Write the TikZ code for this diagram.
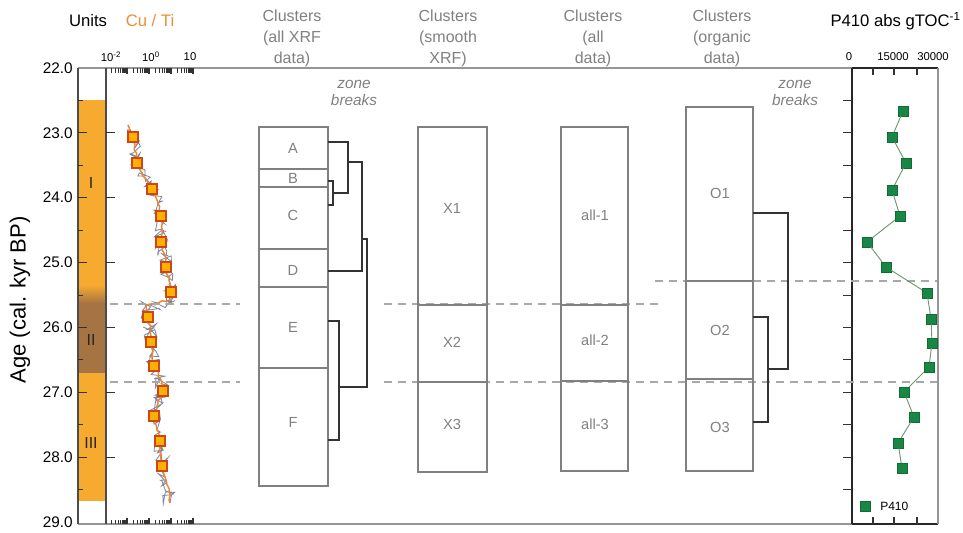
\documentclass[tikz,border=0pt]{standalone}
\usepackage{fontspec}
\setmainfont{Liberation Sans}
\usetikzlibrary{decorations.pathmorphing}
\definecolor{unitorange}{RGB}{246,170,48}
\definecolor{unitbrown}{RGB}{166,116,66}
\definecolor{cutitle}{RGB}{236,142,52}
\definecolor{sqfill}{RGB}{255,176,0}
\definecolor{sqdraw}{RGB}{205,70,22}
\definecolor{curveor}{RGB}{238,134,54}
\definecolor{noisegray}{RGB}{126,134,156}
\definecolor{pgreen}{RGB}{24,134,68}
\definecolor{pline}{RGB}{112,150,112}
\definecolor{boxgray}{RGB}{128,128,128}
\definecolor{txtgray}{RGB}{128,128,128}
\definecolor{dashgray}{RGB}{168,168,168}
\definecolor{framegray}{RGB}{150,150,150}
\begin{document}
\begin{tikzpicture}[x=0.75pt,y=-0.75pt,
  ttl/.style={font=\fontsize{12.5}{15}\selectfont, inner sep=0pt},
  hdr/.style={font=\fontsize{12}{15.8}\selectfont, text=txtgray, align=center, inner sep=0pt},
  zb/.style={font=\fontsize{11.5}{12.8}\selectfont\itshape, text=txtgray, align=center, inner sep=0pt},
  axlab/.style={font=\fontsize{11.5}{13}\selectfont, inner sep=0pt, anchor=east},
  small/.style={font=\fontsize{8.5}{10}\selectfont, inner sep=0pt},
  pnum/.style={font=\fontsize{8.5}{10}\selectfont, inner sep=0pt},
  seglab/.style={font=\fontsize{11}{13}\selectfont, text=txtgray, inner sep=0pt},
  unitlab/.style={font=\fontsize{12}{14}\selectfont, text=black!85, inner sep=0pt},
  box/.style={draw=boxgray, line width=1.1pt},
  dendro/.style={draw=black!80, line width=0.9pt, line join=miter},
  zdash/.style={draw=dashgray, line width=1pt, dash pattern=on 6pt off 4.5pt},
  tick/.style={draw=black!80, line width=0.6pt},
  cusq/.style={rectangle, minimum size=7.6pt, inner sep=0pt, fill=sqfill, draw=sqdraw, line width=0.9pt},
  gsq/.style={rectangle, minimum size=7.2pt, inner sep=0pt, fill=pgreen, draw=pgreen!80!black, line width=0.4pt}
]
\useasboundingbox (0,0) rectangle (963,532);

% ---------- units column fill ----------
\fill[unitorange] (78,100.4) rectangle (106,501);
\shade[top color=unitorange, bottom color=unitbrown] (78,285) rectangle (106,303);
\fill[unitbrown] (78,303) rectangle (106,373);

% ---------- frame ----------
\draw[draw=framegray, line width=1.3pt] (78,68) -- (852,68);
\draw[draw=framegray, line width=1.3pt] (78,524) -- (852,524);
\draw[draw=black!70, line width=1pt] (78,68) -- (78,524);
\draw[draw=black!70, line width=1pt] (106,68) -- (106,524);
\draw[draw=black!85, line width=1.2pt] (852,68) -- (938,68);
\draw[draw=black!85, line width=1.2pt] (852,524) -- (938,524);
\draw[draw=black!85, line width=1.2pt] (852,68) -- (852,524);
\draw[draw=framegray, line width=1pt] (938,68) -- (938,524);

% ---------- age ticks and labels ----------
\foreach \i in {1,...,13} {
  \pgfmathsetmacro\yy{68+\i*32.4286}
  \pgfmathtruncatemacro\ev{mod(\i,2)}
  \ifnum\ev=0
    \draw[tick] (78,\yy) -- (87,\yy);
    \draw[tick] (106,\yy) -- (115,\yy);
  \else
    \draw[tick] (78,\yy) -- (83,\yy);
  \fi
  \draw[tick] (852,\yy) -- (843,\yy);
}
\foreach \i in {0,...,7} {
  \pgfmathsetmacro\yy{68+\i*64.857}
  \pgfmathtruncatemacro\lab{22+\i}
  \node[axlab] (age\i) at (73,\yy) {\lab.0};
}
\node[font=\fontsize{16.5}{19}\selectfont, rotate=90, inner sep=0pt] (agetitle) at (20,300) {Age (cal. kyr BP)};

% ---------- unit labels ----------
\node[unitlab] (u1) at (91,183) {I};
\node[unitlab] (u2) at (91,340) {II};
\node[unitlab] (u3) at (91,443) {III};

% ---------- Cu/Ti log ticks ----------
\foreach \s in {111,133,155,177} {
  \foreach \k in {1,...,9} {
    \pgfmathsetmacro\xx{\s+16*log10(\k)}
    \draw[tick, line width=0.5pt] (\xx,68) -- (\xx,72.5);
    \draw[tick, line width=0.5pt] (\xx,524) -- (\xx,519.5);
  }
  \draw[tick, line width=1.2pt] (\s+16,68) -- (\s+16,74);
  \draw[tick, line width=1.2pt] (\s+16,524) -- (\s+16,518);
}

% ---------- titles ----------
\node[ttl] (tunits) at (88,21) {Units};
\node[ttl, text=cutitle] (tcuti) at (150,21) {Cu / Ti};
\node[small] (l1) at (111,57) {10\textsuperscript{-2}};
\node[small] (l2) at (151,57) {10\textsuperscript{0}};
\node[small] (l3) at (190,57) {10};

\node[ttl, anchor=east] (tp410) at (961,21) {P410 abs gTOC\textsuperscript{-1}};
\node[pnum] (n0) at (849,57) {0};
\node[pnum] (n1) at (893,57) {15000};
\node[pnum] (n2) at (933,57) {30000};

\node[hdr] (h1) at (292,38) {Clusters\\(all XRF\\data)};
\node[hdr] (h2) at (448,38) {Clusters\\(smooth\\XRF)};
\node[hdr] (h3) at (593,38) {Clusters\\(all\\data)};
\node[hdr] (h4) at (722,38) {Clusters\\(organic\\data)};

\node[zb] (zb1) at (354,93) {zone\\breaks};
\node[zb] (zb2) at (795,93) {zone\\breaks};

% ---------- Cu/Ti curve ----------
\pgfmathsetseed{11}
\draw[noisegray, line width=0.6pt, decorate, decoration={random steps, segment length=1.3pt, amplitude=5.4pt}]
  (128,125) -- (133,137) -- (137,163) -- (145,178) -- (152,189) -- (158,203) -- (161,216) -- (162,230) -- (161,242) -- (165,255) -- (166,267) -- (169,280) -- (171,292) -- (172,299) -- (158,303) -- (146,306) -- (148,317) -- (150,330) -- (151,342) -- (152,355) -- (154,366) -- (160,378) -- (163,391) -- (158,404) -- (154,416) -- (157,430) -- (160,441) -- (161,455) -- (162,466) -- (166,480) -- (169,492) -- (170,503);
\pgfmathsetseed{5}
\draw[curveor, line width=1.1pt, line join=round, decorate, decoration={random steps, segment length=2.6pt, amplitude=1pt}]
  (128,125) -- (133,137) -- (137,163) -- (145,178) -- (152,189) -- (158,203) -- (161,216) -- (162,230) -- (161,242) -- (165,255) -- (166,267) -- (169,280) -- (171,292) -- (172,299) -- (158,303) -- (146,306) -- (148,317) -- (150,330) -- (151,342) -- (152,355) -- (154,366) -- (160,378) -- (163,391) -- (158,404) -- (154,416) -- (157,430) -- (160,441) -- (161,455) -- (162,466) -- (166,480) -- (169,492) -- (170,503);
\foreach \n/\p in {1/{133,137},2/{137,163},3/{152,189},4/{161,216},5/{161,242},6/{166,267},7/{171,292},8/{148,317},9/{151,342},10/{154,366},11/{163,391},12/{154,416},13/{160,441},14/{162,466}} {
  \node[cusq] (c\n) at (\p) {};
}

% ---------- zone break dashed lines ----------
\draw[zdash] (110,304) -- (240,304);
\draw[zdash] (384,304) -- (660,304);
\draw[zdash] (110,382) -- (240,382);
\draw[zdash] (384,382) -- (937,382);
\draw[zdash] (655,281) -- (937,281);

% ---------- cluster column: all XRF ----------
\draw[box] (259,127) rectangle (328,486);
\foreach \yy in {169,187,249,287,368} \draw[box] (259,\yy) -- (328,\yy);
\node[seglab] (A) at (293,148) {A};
\node[seglab] (B) at (293,178) {B};
\node[seglab] (C) at (293,215) {C};
\node[seglab] (D) at (293,270) {D};
\node[seglab] (E) at (293,327) {E};
\node[seglab] (F) at (293,422) {F};
\draw[dendro] (328,142) -- (348,142) -- (348,193) -- (333,193);
\draw[dendro] (328,181) -- (333,181) -- (333,205) -- (328,205);
\draw[dendro] (348,162) -- (362,162) -- (362,271) -- (328,271);
\draw[dendro] (328,321) -- (339,321) -- (339,440) -- (328,440);
\draw[dendro] (362,239) -- (367,239) -- (367,387) -- (339,387);

% ---------- cluster column: smooth XRF ----------
\draw[box] (418,127) rectangle (487,472);
\draw[box] (418,305) -- (487,305);
\draw[box] (418,382) -- (487,382);
\node[seglab] (X1) at (452,208) {X1};
\node[seglab] (X2) at (452,342) {X2};
\node[seglab] (X3) at (452,424) {X3};

% ---------- cluster column: all data ----------
\draw[box] (561,127) rectangle (628,471);
\draw[box] (561,305) -- (628,305);
\draw[box] (561,381) -- (628,381);
\node[seglab] (all1) at (595,215) {all-1};
\node[seglab] (all2) at (595,340) {all-2};
\node[seglab] (all3) at (595,424) {all-3};

% ---------- cluster column: organic ----------
\draw[box] (686,107) rectangle (753,471);
\draw[box] (686,281) -- (753,281);
\draw[box] (686,379) -- (753,379);
\node[seglab] (O1) at (720,193) {O1};
\node[seglab] (O2) at (720,330) {O2};
\node[seglab] (O3) at (720,427) {O3};
\draw[dendro] (753,213) -- (788,213) -- (788,369) -- (768,369);
\draw[dendro] (753,317) -- (768,317) -- (768,422) -- (753,422);

% ---------- P410 panel ----------
\foreach \xx in {873,894,917} {
  \draw[tick, line width=0.8pt] (\xx,68) -- (\xx,75);
  \draw[tick, line width=0.8pt] (\xx,524) -- (\xx,517);
}
\foreach \n/\p in {1/{903,111},2/{892,137},3/{906,163},4/{892,190},5/{900,216},6/{867,242},7/{886,267},8/{927,293},9/{931,319},10/{932,343},11/{929,367},12/{904,392},13/{914,417},14/{898,443},15/{902,468}} {
  \node[gsq] (p\n) at (\p) {};
}
\draw[pline, line width=0.7pt] (p1) -- (p2) -- (p3) -- (p4) -- (p5) -- (p6) -- (p7) -- (p8) -- (p9) -- (p10) -- (p11) -- (p12) -- (p13) -- (p14) -- (p15);
\node[gsq] (leg) at (865,506) {};
\node[font=\fontsize{9}{11}\selectfont, anchor=west, inner sep=0pt] (legt) at (880,506) {P410};
\end{tikzpicture}
\end{document}
